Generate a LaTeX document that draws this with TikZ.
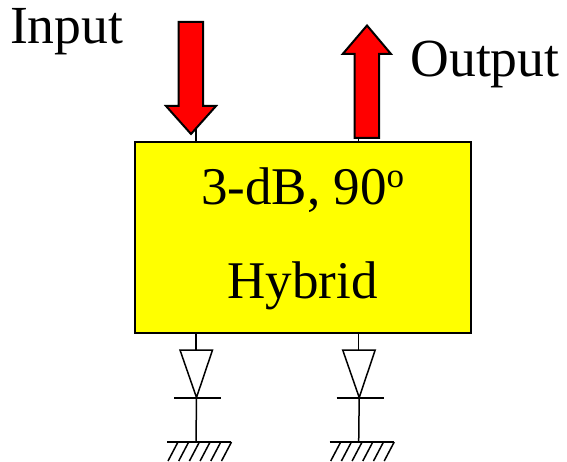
\documentclass[tikz,border=0pt]{standalone}
\usepackage{fontspec}
\setmainfont{Liberation Serif}
\definecolor{hybyellow}{rgb}{1,1,0}
\definecolor{arrowred}{rgb}{1,0,0}
\tikzset{
  label text/.style={anchor=base west,inner sep=0pt,outer sep=0pt,font=\fontsize{53.6}{60}\selectfont},
  box text/.style={anchor=base west,inner sep=0pt,outer sep=0pt,font=\fontsize{53}{60}\selectfont},
  hybrid box/.style={draw=black,fill=hybyellow,line width=2pt,inner sep=0pt,minimum width=336pt,minimum height=191pt},
  fat arrow/.style={draw=black,fill=arrowred,line width=2pt,line join=miter},
  wire/.style={draw=black,line width=1.5pt},
  ground hatch/.style={draw=black,line width=1.5pt},
}
\newcommand{\diodeground}[2]{%
  \coordinate (#1top) at (#2,350);
  \coordinate (#1apex) at (#2+0.5,397.5);
  \coordinate (#1gnd) at (#2,442);
  \draw[wire] (hyb.south -| #1top) -- (#1top);
  \draw[wire,line join=miter] (#2-16,350) -- (#2+16.5,350) -- (#1apex) -- cycle;
  \draw[wire] (#2-22,398) -- (#2+25,398);
  \draw[wire] (#1apex) -- (#1gnd);
  \draw[wire] (#2-29,442) -- (#2+35,442);
  \foreach \k in {0,1,2,3,4,5}{
    \draw[ground hatch] (#2-18+\k*10.7,442) -- (#2-28+\k*10.7,461);
  }
}
\begin{document}
\begin{tikzpicture}[x=1pt,y=-1pt]
\useasboundingbox (0,0) rectangle (567,462);
\coordinate (inlead) at (196,128);
\coordinate (outlead) at (358.7,138);
\node[hybrid box] (hyb) at (303,237.5) {};
\draw[wire] (inlead) -- (hyb.north -| inlead);
\draw[wire] (outlead) -- (hyb.north -| outlead);
\draw[fat arrow] (178.5,22) -- (203,22) -- (203,106) -- (216,106) -- (191,134) -- (166,106) -- (178.5,106) -- cycle;
\draw[fat arrow] (354.7,138) -- (379,138) -- (379,54) -- (391,54) -- (367,25.5) -- (342.7,54) -- (354.7,54) -- cycle;
\node[label text] (input) at (10,43.5) {Input};
\node[label text] (output) at (410.5,76.5) {Output};
\node[box text] (title) at (201,204.5) {3-dB, 90\raisebox{17pt}{\fontsize{35}{40}\selectfont o}};
\node[box text] (hybrid) at (227.5,298.5) {Hybrid};
\diodeground{a}{196}
\diodeground{b}{358.7}
\end{tikzpicture}
\end{document}
